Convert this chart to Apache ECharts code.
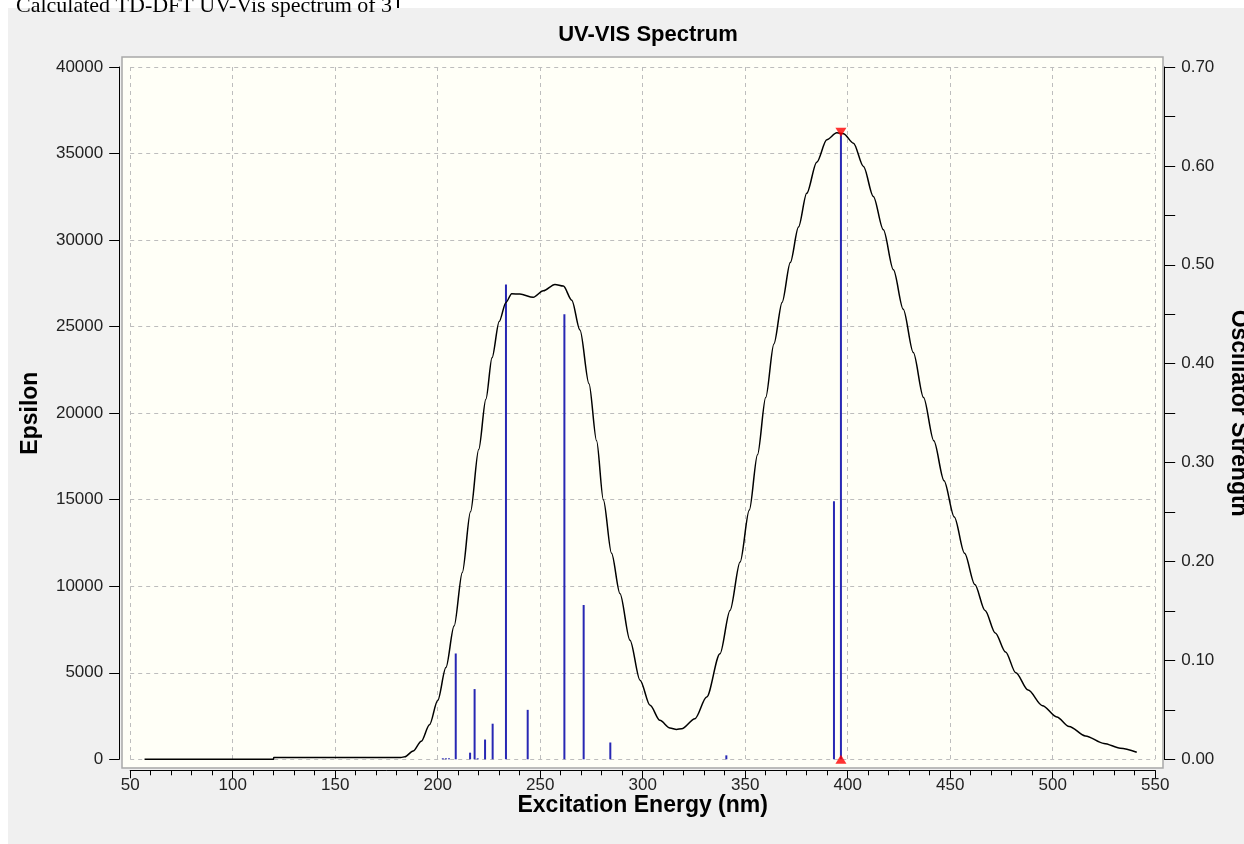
<!DOCTYPE html>
<html><head><meta charset="utf-8">
<script src="https://cdn.jsdelivr.net/npm/echarts@6/dist/echarts.min.js"></script>
<style>html,body{margin:0;padding:0;background:#fff;}#c{width:1244px;height:844px;}</style>
</head><body><div id="c"></div>
<script>
// Calculated UV-Vis spectrum (epsilon) — wavelength in nm
const curveNm = [57, 119.9, 120, 150, 182, 184, 188, 192, 196, 200, 204, 208, 212, 216, 220, 223.5, 226.5, 230, 233.3, 236.1, 240.1, 246.6, 251.5, 257.2, 261.3, 265.4, 269.4, 273.8, 277.5, 280.8, 284.8, 288.9, 293.8, 298.7, 303.6, 308.4, 313.3, 316.5, 319, 325.5, 331.2, 337.7, 342.6, 347.5, 352, 356, 360, 364, 368, 372, 376, 380, 384.9, 389.8, 394.7, 397.9, 402.8, 407.7, 412.5, 417.4, 422.3, 427.1, 432, 437, 442, 447, 452, 457, 462, 467, 472, 477, 482, 488, 495, 502, 508, 516, 525, 533, 541];
const curveEps = [0, 0, 100, 100, 100, 150, 480, 1050, 2000, 3400, 5300, 7700, 10800, 14300, 17900, 20800, 23200, 25300, 26400, 26900, 26880, 26690, 27070, 27440, 27340, 26530, 24800, 21700, 18400, 15000, 11900, 9580, 6880, 4570, 3120, 2250, 1810, 1720, 1770, 2350, 3600, 6100, 8600, 11400, 14400, 17600, 20900, 24000, 26400, 28700, 30750, 32700, 34500, 35800, 36200, 36150, 35600, 34250, 32520, 30590, 28280, 26000, 23500, 20900, 18400, 16100, 14000, 11900, 10100, 8600, 7300, 6200, 5000, 4000, 3100, 2450, 1900, 1350, 920, 640, 405];
// Excitations (oscillator strength)
const stickNm  = [202.5, 204, 205.5, 208.8, 215.8, 218, 219.5, 223.1, 226.8, 233.3, 243.9, 261.8, 271.2, 284.2, 340.8, 393.3, 396.7];
const stickOsc = [0.001, 0.001, 0.001, 0.107, 0.0067, 0.071, 0.001, 0.020, 0.036, 0.480, 0.050, 0.450, 0.156, 0.017, 0.004, 0.261, 0.633];
// Axis ticks
const xTicks = [50, 100, 150, 200, 250, 300, 350, 400, 450, 500, 550];
const yLeftTicks = [0, 5000, 10000, 15000, 20000, 25000, 30000, 35000, 40000];
const yRightTickLabels = ['0.00', '0.10', '0.20', '0.30', '0.40', '0.50', '0.60', '0.70'];

const FONT = "'Liberation Sans', Arial, sans-serif";
const iMax = stickOsc.indexOf(Math.max(...stickOsc));

const chart = echarts.init(document.getElementById('c'), null, {renderer: 'canvas'});
const labelStyle = {color: '#222', fontSize: 17, fontFamily: FONT};
const nameStyle = {color: '#000', fontSize: 23, fontWeight: 'bold', fontFamily: FONT};
const splitStyle = {show: true, lineStyle: {color: '#BDBDBD', type: [4, 4], width: 1}};

chart.setOption({
  animation: false,
  backgroundColor: '#F0F0F0',
  title: {
    text: 'UV-VIS Spectrum', left: 643, top: 19, textAlign: 'center',
    textStyle: {fontSize: 22, fontWeight: 'bold', color: '#000', fontFamily: FONT}
  },
  graphic: {elements: [
    {type: 'rect', z: -100, shape: {x: 0, y: 0, width: 1244, height: 8}, style: {fill: '#fff'}},
    {type: 'rect', z: -100, shape: {x: 0, y: 0, width: 8, height: 844}, style: {fill: '#fff'}},
    {type: 'rect', z: -99, shape: {x: 397, y: 0, width: 2, height: 8}, style: {fill: '#000'}},
    {type: 'text', z: -98, x: 16, y: 17, style: {text: 'Calculated TD-DFT UV-Vis spectrum of 3', font: "22px 'Liberation Serif', 'Times New Roman', serif", fill: '#000', textVerticalAlign: 'bottom'}},
    {type: 'rect', z: -90, shape: {x: 122, y: 57, width: 1041, height: 711}, style: {fill: '#FFFFF7', stroke: '#A8A8A8', lineWidth: 1.5}}
  ]},
  grid: {left: 130.2, right: 88.8, top: 67, bottom: 84.7, containLabel: false, outerBoundsMode: 'none'},
  xAxis: {
    type: 'value', min: xTicks[0], max: xTicks[xTicks.length - 1], interval: 50, offset: 11,
    name: 'Excitation Energy (nm)', nameLocation: 'middle', nameGap: 24, nameMoveOverlap: false, nameTextStyle: nameStyle,
    axisLine: {show: true, onZero: false, lineStyle: {color: '#000', width: 1}},
    axisTick: {show: true, inside: false, length: 8, lineStyle: {color: '#000'}},
    minorTick: {show: true, splitNumber: 5, length: 5, lineStyle: {color: '#000'}},
    axisLabel: Object.assign({margin: 7}, labelStyle),
    splitLine: splitStyle
  },
  yAxis: [
    {
      type: 'value', position: 'left', min: yLeftTicks[0], max: yLeftTicks[yLeftTicks.length - 1], interval: 5000, offset: 11,
      name: 'Epsilon', nameLocation: 'middle', nameGap: 77, nameRotate: 90, nameMoveOverlap: false, nameTextStyle: nameStyle,
      axisLine: {show: true, lineStyle: {color: '#000', width: 1}},
      axisTick: {show: true, length: 10, lineStyle: {color: '#000'}},
      axisLabel: Object.assign({margin: 16, formatter: v => String(v)}, labelStyle),
      splitLine: splitStyle
    },
    {
      type: 'value', position: 'right', min: 0, max: 0.7, interval: 0.1, offset: 9,
      name: 'Oscillator Strength', nameLocation: 'middle', nameGap: 63, nameRotate: -90, nameMoveOverlap: false, nameTextStyle: nameStyle,
      axisLine: {show: true, lineStyle: {color: '#000', width: 1}},
      axisTick: {show: true, length: 11, lineStyle: {color: '#000'}},
      minorTick: {show: true, splitNumber: 2, length: 11, lineStyle: {color: '#000'}},
      axisLabel: Object.assign({margin: 17, formatter: v => yRightTickLabels[Math.round(v * 10)]}, labelStyle),
      splitLine: {show: false}
    }
  ],
  series: [
    {
      type: 'bar', yAxisIndex: 1, barWidth: 2, z: 2,
      itemStyle: {color: '#2828B4'},
      data: stickNm.map((x, i) => [x, stickOsc[i]])
    },
    {
      type: 'line', yAxisIndex: 0, showSymbol: false, z: 3,
      smooth: 0.3, smoothMonotone: 'x',
      lineStyle: {color: '#000', width: 1.5},
      data: curveNm.map((x, i) => [x, curveEps[i]])
    },
    {
      type: 'scatter', yAxisIndex: 1, z: 5,
      symbol: 'triangle', symbolRotate: 180, symbolSize: [11, 9], symbolOffset: [0, -1],
      itemStyle: {color: '#FF0000'},
      data: [[stickNm[iMax], stickOsc[iMax]]]
    },
    {
      type: 'scatter', yAxisIndex: 1, z: 5,
      symbol: 'triangle', symbolSize: [11, 9],
      itemStyle: {color: '#FF0000'},
      data: [[stickNm[iMax], 0]]
    }
  ]
});
</script></body></html>
